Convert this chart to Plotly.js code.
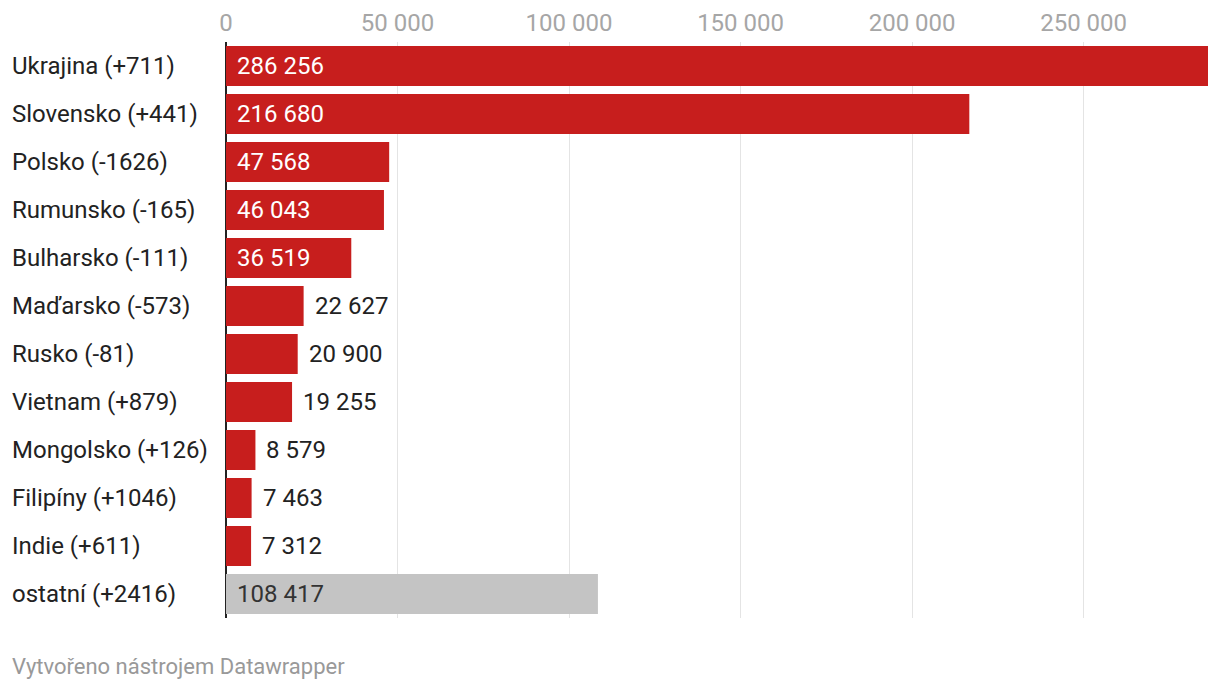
<!DOCTYPE html>
<html>
<head>
<meta charset="utf-8">
<script src="https://cdn.plot.ly/plotly-3.0.1.min.js"></script>
<style>html,body{margin:0;padding:0;background:#fff;}#chart{width:1220px;height:690px;}</style>
</head>
<body>
<div id="chart"></div>
<script>
const categories = ["Ukrajina (+711)", "Slovensko (+441)", "Polsko (-1626)", "Rumunsko (-165)", "Bulharsko (-111)", "Maďarsko (-573)", "Rusko (-81)", "Vietnam (+879)", "Mongolsko (+126)", "Filipíny (+1046)", "Indie (+611)", "ostatní (+2416)"];
const values = [286256, 216680, 47568, 46043, 36519, 22627, 20900, 19255, 8579, 7463, 7312, 108417];
const isOther = [false, false, false, false, false, false, false, false, false, false, false, true];
const tickValues = [0, 50000, 100000, 150000, 200000, 250000];

const RED = "#c71e1d", GRAY = "#c4c4c4";
function fmt(n){ return String(n).replace(/\B(?=(\d{3})+(?!\d))/g, " "); }

const L = 226, R = 12, W = 1220;
const xMax = Math.max(...values);
const insideThreshold = 30000;

const annotations = [];
categories.forEach((c, i) => {
  annotations.push({
    xref: "paper", yref: "y", x: 0, y: c, xanchor: "left", yanchor: "middle",
    xshift: -(L - 10), text: c, showarrow: false,
    font: {family: "Roboto", size: 24, color: "#222"}
  });
  const inside = values[i] > insideThreshold;
  annotations.push({
    xref: "x", yref: "y", x: inside ? 0 : values[i], y: c, xanchor: "left", yanchor: "middle",
    xshift: 9, text: fmt(values[i]), showarrow: false,
    font: {family: "Roboto", size: 24, color: inside ? (isOther[i] ? "#333" : "#ffffff") : "#222"}
  });
});
annotations.push({
  xref: "paper", yref: "paper", x: 0, xshift: -(L - 10), y: 0, yshift: -48,
  xanchor: "left", yanchor: "middle", showarrow: false,
  text: "Vytvořeno nástrojem Datawrapper",
  font: {family: "Roboto", size: 22, color: "#999"}
});

const trace = {
  type: "bar", orientation: "h",
  y: categories, x: values,
  marker: {color: isOther.map(o => o ? GRAY : RED), line: {width: 0}},
  hoverinfo: "none", cliponaxis: false
};

const layout = {
  width: W, height: 690,
  margin: {l: L, r: R, t: 42, b: 72},
  paper_bgcolor: "#fff", plot_bgcolor: "#fff",
  separators: ". ",
  bargap: 1/6,
  showlegend: false,
  xaxis: {
    side: "top", range: [0, xMax], tickvals: tickValues,
    ticktext: tickValues.map(fmt),
    showgrid: true, gridcolor: "#e4e4e4", gridwidth: 1,
    zeroline: true, zerolinecolor: "#222", zerolinewidth: 2,
    showline: false, ticks: "", ticklabelstandoff: 5,
    tickfont: {family: "Roboto", size: 24, color: "#a6a6a6"},
    fixedrange: true
  },
  yaxis: {
    autorange: "reversed", showticklabels: false, showgrid: false,
    zeroline: false, showline: false, ticks: "", fixedrange: true
  },
  annotations: annotations
};

Plotly.newPlot("chart", [trace], layout, {displayModeBar: false, staticPlot: true});
</script>
</body>
</html>
